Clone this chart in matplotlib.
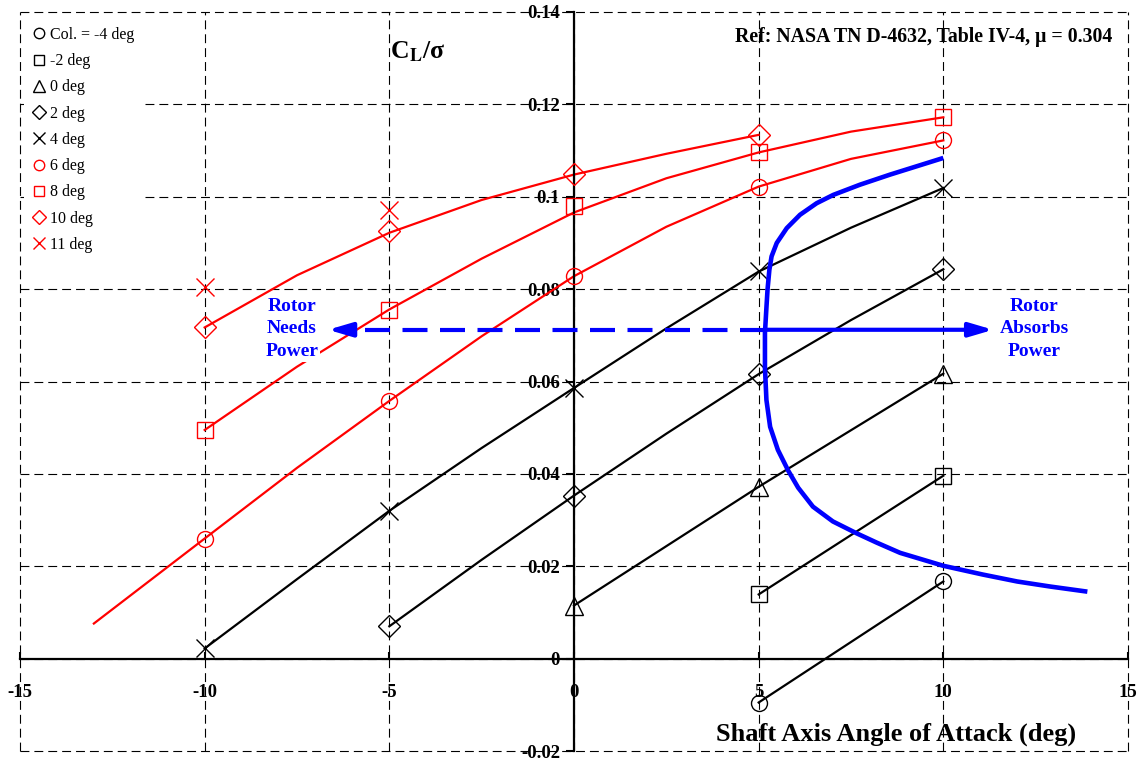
import matplotlib
matplotlib.use('Agg')
import matplotlib.pyplot as plt
from matplotlib.lines import Line2D

plt.rcParams['font.family'] = ['Liberation Serif', 'DejaVu Serif']
plt.rcParams['mathtext.fontset'] = 'stix'

# ---------------- data ----------------
legend_labels = ['Col. = -4 deg', '-2 deg', '0 deg', '2 deg', '4 deg',
                 '6 deg', '8 deg', '10 deg', '11 deg']

# measured points (markers)
m4_x = [5, 10];            m4_y = [-0.0095, 0.0167]
m2_x = [5, 10];            m2_y = [0.0139, 0.0396]
c0_x = [0, 5, 10];         c0_y = [0.0115, 0.0372, 0.0617]
c2_x = [-5, 0, 5, 10];     c2_y = [0.0070, 0.0353, 0.0616, 0.0843]
c4_x = [-10, -5, 0, 5, 10]; c4_y = [0.0022, 0.0320, 0.0586, 0.0840, 0.1019]
c6_x = [-10, -5, 0, 5, 10]; c6_y = [0.0260, 0.0558, 0.0828, 0.1022, 0.1122]
c8_x = [-10, -5, 0, 5, 10]; c8_y = [0.0495, 0.0754, 0.0979, 0.1097, 0.1172]
c10_x = [-10, -5, 0, 5];   c10_y = [0.0717, 0.0925, 0.1050, 0.1134]
c11_x = [-10, -5];         c11_y = [0.0805, 0.0972]

# fitted curves
f2_x = [-5, -2.5, 0, 2.5, 5, 7.5, 10]
f2_y = [0.0070, 0.0214, 0.0353, 0.0487, 0.0616, 0.0733, 0.0843]
f4_x = [-10, -7.5, -5, -2.5, 0, 2.5, 5, 7.5, 10]
f4_y = [0.0022, 0.0172, 0.0320, 0.0456, 0.0586, 0.0715, 0.0838, 0.0933, 0.1019]
f6_x = [-13, -10, -7.5, -5, -2.5, 0, 2.5, 5, 7.5, 10]
f6_y = [0.0076, 0.0260, 0.0413, 0.0558, 0.0698, 0.0828, 0.0935, 0.1022,
        0.1082, 0.1122]
f8_x = [-10, -7.5, -5, -2.5, 0, 2.5, 5, 7.5, 10]
f8_y = [0.0495, 0.0632, 0.0756, 0.0866, 0.0966, 0.1040, 0.1096, 0.1141, 0.1172]
f10_x = [-10, -7.5, -5, -2.5, 0, 2.5, 5]
f10_y = [0.0717, 0.0830, 0.0922, 0.0993, 0.1048, 0.1093, 0.1134]

# zero-power boundary (blue)
bnd_x = [10.0, 9.28, 8.56, 7.74, 7.02, 6.57, 6.12, 5.76, 5.49, 5.35, 5.29,
         5.24, 5.21, 5.17, 5.17, 5.21, 5.31, 5.52, 5.80, 6.07, 6.47, 7.01,
         7.66, 8.2, 8.83, 10.0, 11.07, 12.0, 12.9, 13.9]
bnd_y = [0.1084, 0.1066, 0.1048, 0.1026, 0.1004, 0.0986, 0.0961, 0.0932,
         0.0900, 0.0871, 0.0842, 0.0799, 0.0760, 0.0705, 0.0630, 0.0560,
         0.0502, 0.0452, 0.0407, 0.0370, 0.0329, 0.0297, 0.0271, 0.0251,
         0.0229, 0.0201, 0.0182, 0.0167, 0.0156, 0.0145]

arrow_y = 0.0712
arrow_mid_x = 5.17
arrow_left_x = -6.66
arrow_right_x = 11.35

x_ticks = [-15, -10, -5, 0, 5, 10, 15]
x_ticklabels = ['-15', '-10', '-5', '0', '5', '10', '15']
y_ticks = [-0.02, 0, 0.02, 0.04, 0.06, 0.08, 0.1, 0.12, 0.14]
y_ticklabels = ['-0.02', '0', '0.02', '0.04', '0.06', '0.08', '0.1', '0.12', '0.14']

# ---------------- figure ----------------
fig = plt.figure(figsize=(11.41, 7.61), dpi=100)
ax = fig.add_axes([20 / 1141, 10 / 761, 1108 / 1141, 739 / 761])
ax.set_xlim(-15, 15)
ax.set_ylim(-0.02, 0.14)

ax.spines['top'].set_visible(False)
ax.spines['right'].set_visible(False)
ax.spines['left'].set_position(('data', 0))
ax.spines['bottom'].set_position(('data', 0))
for s in ('left', 'bottom'):
    ax.spines[s].set_linewidth(1.6)
    ax.spines[s].set_zorder(4)

ax.set_xticks(x_ticks)
ax.set_xticklabels(x_ticklabels)
ax.set_yticks(y_ticks)
ax.set_yticklabels(y_ticklabels)
ax.tick_params(axis='x', direction='in', length=5, width=1.5, pad=18,
               labelsize=13.5)
ax.tick_params(axis='y', direction='out', length=6, width=1.5, pad=4,
               labelsize=13.5)
for lab in ax.get_xticklabels() + ax.get_yticklabels():
    lab.set_fontweight('bold')

ax.grid(True, color='black', linewidth=0.8, linestyle=(0, (8, 4.5)))
for gl in ax.get_xgridlines() + ax.get_ygridlines():
    gl.set_clip_on(False)
ax.set_axisbelow(True)

ms = 11.5
mew = 1.0
lw = 1.6

# black curves
ax.plot(m4_x, m4_y, color='black', lw=lw, zorder=3)
ax.plot(m2_x, m2_y, color='black', lw=lw, zorder=3)
ax.plot(c0_x, c0_y, color='black', lw=lw, zorder=3)
ax.plot(f2_x, f2_y, color='black', lw=lw, zorder=3)
ax.plot(f4_x, f4_y, color='black', lw=lw, zorder=3)
# red curves
ax.plot(f6_x, f6_y, color='red', lw=lw, zorder=3)
ax.plot(f8_x, f8_y, color='red', lw=lw, zorder=3)
ax.plot(f10_x, f10_y, color='red', lw=lw, zorder=3)

mk = dict(ls='none', mfc='none', mew=mew, zorder=5)
ax.plot(m4_x, m4_y, marker='o', ms=ms, mec='black', **mk)
ax.plot(m2_x, m2_y, marker='s', ms=ms, mec='black', **mk)
ax.plot(c0_x, c0_y, marker='^', ms=ms + 2, mec='black', **mk)
ax.plot(c2_x, c2_y, marker='D', ms=ms - 0.8, mec='black', **mk)
ax.plot(c4_x, c4_y, marker='x', ms=ms + 1, mec='black', **mk)
ax.plot(c6_x, c6_y, marker='o', ms=ms, mec='red', **mk)
ax.plot(c8_x, c8_y, marker='s', ms=ms, mec='red', **mk)
ax.plot(c10_x, c10_y, marker='D', ms=ms - 0.8, mec='red', **mk)
ax.plot(c11_x, c11_y, marker='x', ms=ms + 1, mec='red', **mk)

# boundary
ax.plot(bnd_x, bnd_y, color='blue', lw=3.3, zorder=6, solid_capstyle='butt',
        solid_joinstyle='round')

# arrows
ax.plot([arrow_mid_x, arrow_left_x + 0.75], [arrow_y, arrow_y], color='blue',
        lw=3, linestyle=(0, (6, 3)), zorder=6)
ax.annotate('', xy=(arrow_left_x, arrow_y), xytext=(arrow_left_x + 0.6, arrow_y),
            arrowprops=dict(arrowstyle='-|>,head_length=0.95,head_width=0.28',
                            color='blue', lw=3, shrinkA=0, shrinkB=0,
                            mutation_scale=15), zorder=6)
ax.annotate('', xy=(arrow_right_x, arrow_y), xytext=(arrow_mid_x, arrow_y),
            arrowprops=dict(arrowstyle='-|>,head_length=0.95,head_width=0.28',
                            color='blue', lw=3, shrinkA=0, shrinkB=0,
                            mutation_scale=15), zorder=6)

txt_kw = dict(color='blue', fontweight='bold', fontsize=14, ha='center',
              va='center', linespacing=1.4, zorder=7)
ax.text(-7.64, 0.0714, 'Rotor\nNeeds\nPower',
        bbox=dict(facecolor='white', edgecolor='none', pad=1.5), **txt_kw)
ax.text(12.46, 0.0714, 'Rotor\nAbsorbs\nPower',
        bbox=dict(facecolor='white', edgecolor='none', pad=1.5), **txt_kw)

ax.text(14.57, 0.1346, 'Ref: NASA TN D-4632, Table IV-4, \u03bc = 0.304',
        ha='right', va='center', fontsize=14.3, fontweight='bold', zorder=7)
ax.text(-4.98, 0.1314, 'C$_{\\mathbf{L}}$/\u03c3', ha='left', va='center',
        fontsize=18.5, fontweight='bold', zorder=7)
ax.text(8.71, -0.01645, 'Shaft Axis Angle of Attack (deg)', ha='center',
        va='center', fontsize=19, fontweight='bold', zorder=7)

# legend
colors = ['black'] * 5 + ['red'] * 4
markers = ['o', 's', '^', 'D', 'x', 'o', 's', 'D', 'x']
sizes = [7.5, 7.5, 8.5, 7, 8.5, 7.5, 7.5, 7, 8.5]
handles = [Line2D([], [], ls='none', marker=m, mfc='none', mec=c, ms=s, mew=1.0)
           for m, c, s in zip(markers, colors, sizes)]
leg = ax.legend(handles, legend_labels, loc='upper left',
                bbox_to_anchor=(24 / 1141, 1 - 19 / 761),
                bbox_transform=fig.transFigure, borderaxespad=0,
                frameon=True, facecolor='white', edgecolor='none',
                fancybox=False, framealpha=1.0, fontsize=11.5,
                handlelength=0.9, handletextpad=0.25, labelspacing=0.64,
                borderpad=0.5)
leg.set_zorder(3.5)

fig.savefig('out.png', dpi=100)
